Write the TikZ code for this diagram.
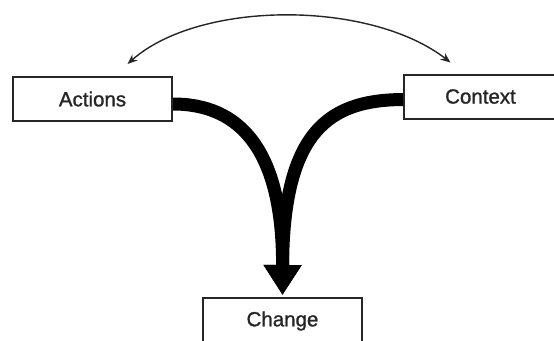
\documentclass[tikz,border=0pt]{standalone}
\usepackage{fontspec}
\setmainfont{Liberation Sans}
\newfontfamily\labelfont[FakeBold=1.2]{Liberation Sans}
\usetikzlibrary{arrows.meta}
\begin{document}
\begin{tikzpicture}[x=1pt,y=-1pt,
  box/.style={draw=black!85, line width=2pt, fill=white, minimum height=44pt, inner sep=0pt,
    font=\labelfont\fontsize{20.5}{24}\selectfont, text=black!85},
  thick flow/.style={line width=13pt, draw=black, -{Triangle[length=30pt,width=36pt]}, shorten >=2pt},
  thin flow/.style={line width=1.4pt, draw=black!85, {Stealth[length=10pt,width=8pt]}-{Stealth[length=10pt,width=8pt]}}
]
\clip (0,0) rectangle (554,340);
\fill[white] (0,0) rectangle (554,340);
\node[box, minimum width=159pt] (actions) at (92.5,99) {Actions};
\node[box, minimum width=153pt] (context) at (480.5,96.5) {Context};
\node[box, minimum width=159pt, minimum height=46pt] (change) at (282.5,321) {Change};
\draw[thick flow] ([yshift=-5pt]actions.east) .. controls (240,104) and (283,150) .. (change.north);
\draw[thick flow] ([yshift=-3pt]context.west) .. controls (330,100) and (283,130) .. (change.north);
\draw[thin flow] ([xshift=35pt,yshift=12pt]actions.north) .. controls (200,0) and (370,0) .. ([xshift=-30pt,yshift=11pt]context.north);
\end{tikzpicture}
\end{document}
